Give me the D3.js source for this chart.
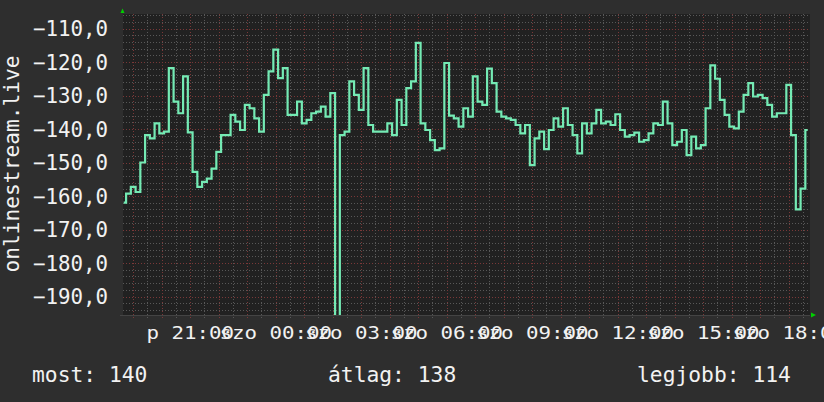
<!DOCTYPE html>
<html>
<head>
<meta charset="utf-8">
<script src="https://cdn.jsdelivr.net/npm/d3@7"></script>
<style>
  body { margin: 0; background: #2e2e2e; }
  svg { display: block; }
  text { font-family: "DejaVu Sans Mono", monospace; fill: #f2f2f2; }
</style>
</head>
<body>
<svg id="chart" width="824" height="402"></svg>
<script>

// signal level, one reading every 10 minutes from Fri 18:40
var startTime = new Date(2024, 0, 5, 18, 40);
var stepMinutes = 10;
var signalValues = [
    -162, -159.3, -157.3, -158.8, -150, -141.8, -142.8, -138.3, -141.3, -140.8,
    -121.8, -131.8, -135.3, -124.3, -141, -152.8, -157.3, -155.8, -154.8, -151.8,
    -146.8, -141.8, -141.8, -135.8, -137.8, -140.3, -132.8, -133.8, -136.8, -140.8,
    -129.8, -122.8, -116.3, -124.8, -121.8, -135.8, -135.8, -131.8, -138.3, -137.3,
    -135.3, -134.8, -133.3, -136.3, -129.3, -196, -141.8, -140.8, -125.8, -129.8,
    -134.3, -121.8, -138.8, -140.8, -140.8, -140.8, -138.3, -141.8, -131.3, -138.8,
    -127.8, -125.8, -114.3, -138.3, -140.3, -143.3, -146.3, -145.8, -120.3, -136,
    -136.8, -139.3, -133.8, -136.3, -124.3, -131.8, -132.8, -122, -126.3, -134.8,
    -136.3, -136.8, -137.3, -138.8, -141.3, -138.8, -150.8, -142.8, -140.8, -146,
    -140.3, -136.8, -139.3, -133.8, -138.8, -141.8, -147.3, -138.3, -141.3, -138.3,
    -134.3, -138.3, -137.8, -138.8, -135.6, -140.3, -142.3, -141.8, -141.1, -143.8,
    -143.3, -141.3, -138.3, -138.8, -131.8, -138.3, -144.8, -143.8, -140.3, -147.8,
    -142.3, -145.8, -144.8, -133.8, -121, -125, -131.3, -135.8, -139.3, -139.8,
    -134.8, -129.8, -126.3, -130.3, -129.8, -130.8, -132.8, -136.3, -135.3, -135.3,
    -126.8, -141.8, -164, -157.8, -140.3
];

var yTickValues = [-190, -180, -170, -160, -150, -140, -130, -120, -110];
var dayNames = ["v", "h", "k", "sze", "cs", "p", "szo"];
var axisTitle = "onlinestream.live";
var legendLabels = ["most: 140", "átlag: 138", "legjobb: 114"];


SignalChart = function(_parentElement, _times, _values) {
    this.parentElement = _parentElement;
    this.times = _times;
    this.values = _values;
    this.left = 123;
    this.right = 810;
    this.top = 14;
    this.bottom = 315;
    this.initVis();
}

SignalChart.prototype.initVis = function() {
    var vis = this;
    vis.svg = d3.select("#" + vis.parentElement);

    vis.x = d3.scaleTime()
        .domain([new Date(2024, 0, 5, 18, 38, 30), new Date(2024, 0, 6, 18, 44, 50)])
        .range([vis.left, vis.right]);

    vis.y = d3.scaleLinear()
        .domain([-195.52, -105.67])
        .range([vis.bottom, vis.top]);

    vis.updateVis();
}

SignalChart.prototype.updateVis = function() {
    var vis = this;
    var x = vis.x, y = vis.y;

    vis.svg.append("rect")
        .attr("x", vis.left).attr("y", vis.top)
        .attr("width", vis.right - vis.left).attr("height", vis.bottom - vis.top)
        .attr("fill", "#212121");

    // horizontal grid, every 2 units, red every 10
    var hLines = d3.range(-194, -105, 2);
    vis.svg.append("g").selectAll("line")
        .data(hLines)
        .enter().append("line")
        .attr("x1", vis.left).attr("x2", vis.right)
        .attr("y1", function(d) { return Math.round(y(d)) + 0.5; })
        .attr("y2", function(d) { return Math.round(y(d)) + 0.5; })
        .attr("stroke", function(d) { return d % 10 == 0 ? "#7a3838" : "#585858"; })
        .attr("stroke-dasharray", "1,2");

    // vertical grid, every half hour, red every hour
    var vLines = d3.timeMinute.every(30).range(x.domain()[0], x.domain()[1]);
    vis.svg.append("g").selectAll("line")
        .data(vLines)
        .enter().append("line")
        .attr("y1", vis.top).attr("y2", vis.bottom + 4)
        .attr("x1", function(d) { return Math.round(x(d)) + 0.5; })
        .attr("x2", function(d) { return Math.round(x(d)) + 0.5; })
        .attr("stroke", function(d) { return d.getMinutes() == 0 ? "#7a3838" : "#585858"; })
        .attr("stroke-dasharray", "1,2");

    // axis corner
    vis.svg.append("line")
        .attr("x1", vis.left - 3).attr("x2", vis.right)
        .attr("y1", vis.bottom + 0.5).attr("y2", vis.bottom + 0.5)
        .attr("stroke", "#444");

    vis.svg.append("defs").append("clipPath").attr("id", "plotClip")
        .append("rect")
        .attr("x", vis.left).attr("y", vis.top)
        .attr("width", vis.right - vis.left).attr("height", vis.bottom - vis.top);

    var points = vis.values.map(function(v, i) {
        return { t: vis.times[i], v: v };
    });

    var line = d3.line()
        .x(function(d) { return x(d.t); })
        .y(function(d) { return y(d.v); })
        .curve(d3.curveStep);

    vis.svg.append("path")
        .datum(points)
        .attr("clip-path", "url(#plotClip)")
        .attr("d", line)
        .attr("fill", "none")
        .attr("stroke", "#74eab4")
        .attr("stroke-width", 2.2);

    // arrows
    vis.svg.append("path")
        .attr("d", "M" + (vis.left - 2.5) + ",13 L" + (vis.left + 1.5) + ",13 L" + (vis.left - 0.5) + ",8.5 Z")
        .attr("fill", "#00d000");
    vis.svg.append("path")
        .attr("d", "M" + (vis.right + 1) + "," + (vis.bottom - 2.5) + " L" + (vis.right + 1) + "," + (vis.bottom + 2.5) + " L" + (vis.right + 6) + "," + vis.bottom + " Z")
        .attr("fill", "#00d000");

    // y tick labels
    vis.svg.append("g").selectAll("text")
        .data(yTickValues)
        .enter().append("text")
        .attr("x", 108)
        .attr("y", function(d) { return y(d) + 7.5; })
        .attr("text-anchor", "end")
        .attr("font-size", 20.8)
        .text(function(d) { return d3.format(".1f")(d).replace(".", ","); });

    // x tick labels
    var xTicks = x.ticks(d3.timeHour.every(3));
    vis.svg.append("g").selectAll("text")
        .data(xTicks)
        .enter().append("text")
        .attr("transform", function(d) { return "translate(" + x(d) + ",339) scale(1,0.88)"; })
        .attr("text-anchor", "middle")
        .attr("font-size", 20.8)
        .text(function(d) { return dayNames[d.getDay()] + " " + d3.timeFormat("%H:%M")(d); });

    vis.svg.append("text")
        .attr("transform", "translate(18.5,164) rotate(-90)")
        .attr("text-anchor", "middle")
        .attr("font-size", 21.2)
        .text(axisTitle);

    var legendX = [32, 328, 637];
    vis.svg.append("g").selectAll("text")
        .data(legendLabels)
        .enter().append("text")
        .attr("x", function(d, i) { return legendX[i]; })
        .attr("y", 382)
        .attr("font-size", 21.3)
        .text(function(d) { return d; });
}

var times = signalValues.map(function(v, i) {
    return d3.timeMinute.offset(startTime, i * stepMinutes);
});
var chart = new SignalChart("chart", times, signalValues);

</script>
</body>
</html>
